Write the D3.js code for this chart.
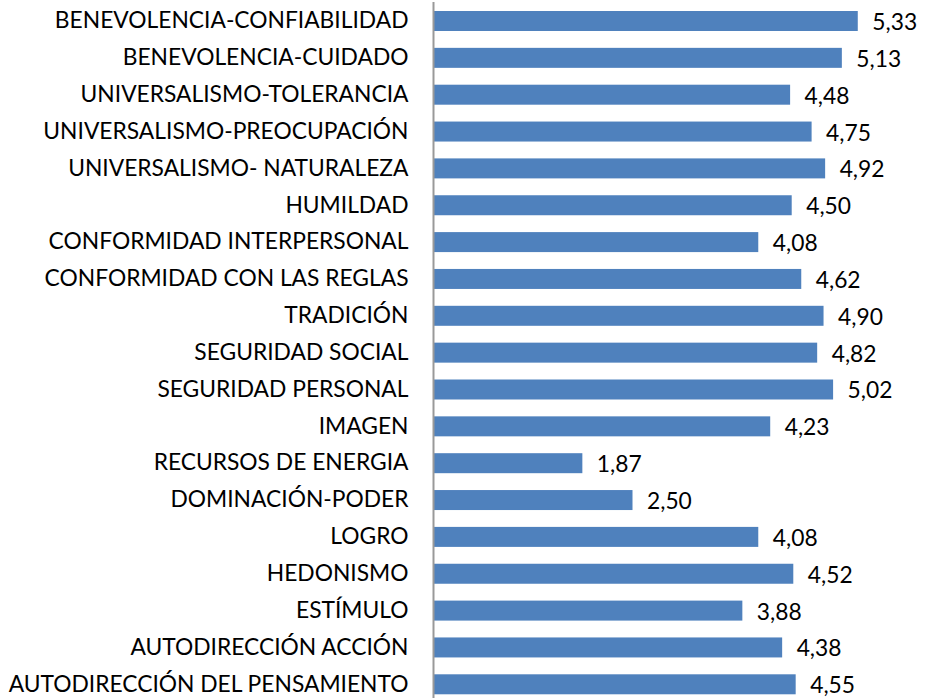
<!DOCTYPE html>
<html>
<head>
<meta charset="utf-8">
<script src="https://cdn.jsdelivr.net/npm/d3@7"></script>
<style>
  html, body { margin: 0; padding: 0; background: #fff; }
  svg { display: block; }
</style>
</head>
<body>
<svg id="chart" width="935" height="698"></svg>
<script>
const categories = [
  "BENEVOLENCIA-CONFIABILIDAD",
  "BENEVOLENCIA-CUIDADO",
  "UNIVERSALISMO-TOLERANCIA",
  "UNIVERSALISMO-PREOCUPACIÓN",
  "UNIVERSALISMO- NATURALEZA ",
  "HUMILDAD",
  "CONFORMIDAD INTERPERSONAL",
  "CONFORMIDAD CON LAS REGLAS",
  "TRADICIÓN",
  "SEGURIDAD SOCIAL",
  "SEGURIDAD PERSONAL",
  "IMAGEN",
  "RECURSOS DE ENERGIA",
  "DOMINACIÓN-PODER",
  "LOGRO",
  "HEDONISMO",
  "ESTÍMULO",
  "AUTODIRECCIÓN ACCIÓN",
  "AUTODIRECCIÓN DEL PENSAMIENTO"
];
const values = [5.33, 5.13, 4.48, 4.75, 4.92, 4.50, 4.08, 4.62, 4.90, 4.82, 5.02, 4.23, 1.87, 2.50, 4.08, 4.52, 3.88, 4.38, 4.55];
const valueLabels = ["5,33","5,13","4,48","4,75","4,92","4,50","4,08","4,62","4,90","4,82","5,02","4,23","1,87","2,50","4,08","4,52","3,88","4,38","4,55"];

const svg = d3.select("#chart");
const fontFamily = "Lato, 'Open Sans', sans-serif";
const x0 = 433.5;
const unit = 79.6;
const x = d3.scaleLinear().domain([0, 6]).range([x0, x0 + 6 * unit]);
const step = 36.85;
const pad = 0.4575;
const y = d3.scaleBand().domain(categories)
  .range([11 - step * pad / 2, 11 - step * pad / 2 + step * categories.length])
  .paddingInner(pad).paddingOuter(pad / 2);

// bars
svg.append("g").selectAll("rect").data(categories).join("rect")
  .attr("x", x(0))
  .attr("y", d => y(d))
  .attr("width", (d, i) => x(values[i]) - x(0))
  .attr("height", y.bandwidth())
  .attr("fill", "#4F81BD");

// category axis
const axis = d3.axisLeft(y).tickSize(0).tickPadding(25);
const gAxis = svg.append("g").attr("transform", `translate(${x0},0)`).call(axis);
gAxis.select(".domain").remove();
gAxis.selectAll("text")
  .attr("font-family", fontFamily)
  .attr("font-size", 22.8)
  .attr("fill", "#000");
svg.append("line")
  .attr("x1", x0).attr("x2", x0)
  .attr("y1", 2).attr("y2", 698)
  .attr("stroke", "#999999").attr("stroke-width", 2);

// value labels
svg.append("g").selectAll("text").data(categories).join("text")
  .attr("x", (d, i) => x(values[i]) + 14.5)
  .attr("y", d => y(d) + y.bandwidth() / 2 + 1)
  .attr("dy", "0.35em")
  .attr("font-family", fontFamily)
  .attr("font-size", 22.8)
  .attr("fill", "#000")
  .text((d, i) => valueLabels[i]);
</script>
</body>
</html>
